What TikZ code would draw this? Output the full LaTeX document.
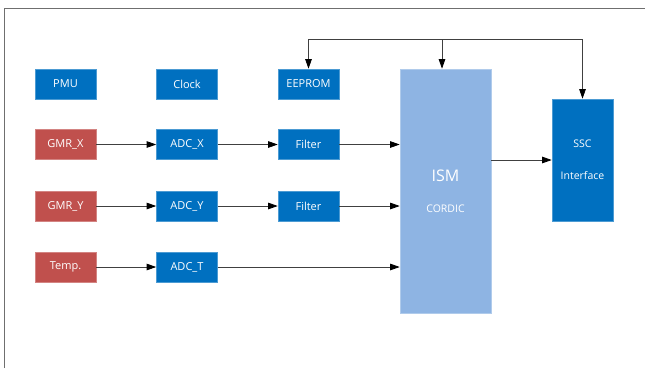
\documentclass[tikz,border=0pt]{standalone}
\usepackage{fontspec}
\setmainfont{Open Sans}
\usetikzlibrary{arrows.meta}
\definecolor{blk}{HTML}{0070C0}
\definecolor{sensor}{HTML}{C0504D}
\definecolor{core}{HTML}{8EB4E3}
\definecolor{frame}{HTML}{6F6F6F}
\tikzset{
  unit/.style={rectangle, fill=blk, draw=blk!70!white, line width=0.6pt, text=white,
    minimum width=61pt, minimum height=30pt, inner sep=0pt, font=\fontsize{11}{13}\selectfont},
  sensorbox/.style={unit, fill=sensor, draw=sensor!70!white},
  flow/.style={draw=black!75, line width=0.8pt, -{Triangle[length=9.5pt,width=6.5pt,color=black]}},
}
\begin{document}
\begin{tikzpicture}[x=1pt,y=-1pt]
\useasboundingbox (0,0) rectangle (645,368);
% outer frame (open at right and bottom)
\draw[frame, line width=1pt] (4.5,368) -- (4.5,8.5) -- (645,8.5);

% top row
\node[unit] (pmu)    at (65.5,84)  {PMU};
\node[unit] (clock)  at (187,84)   {Clock};
\node[unit] (eeprom) at (308.5,84) {EEPROM};

% X channel
\node[sensorbox] (gmrx) at (65.5,144.5) {GMR\_X};
\node[unit] (adcx)      at (187,144.5)  {ADC\_X};
\node[unit] (filtx)     at (308.5,144.5){Filter};

% Y channel
\node[sensorbox] (gmry) at (65.5,206) {GMR\_Y};
\node[unit] (adcy)      at (187,206)  {ADC\_Y};
\node[unit] (filty)     at (308.5,206){Filter};

% temperature channel
\node[sensorbox] (temp) at (65.5,267) {Temp.};
\node[unit] (adct)      at (187,267)  {ADC\_T};

% processing core and interface
\node[unit, fill=core, draw=core!70!white, minimum width=91pt, minimum height=244pt] (ism) at (445.5,191) {};
\node[text=white, font=\fontsize{16}{18}\selectfont] (ismlabel) at (445.5,176) {ISM};
\node[text=white, font=\fontsize{10.5}{12}\selectfont] (cordic) at (445.5,209) {CORDIC};
\node[unit, minimum width=61pt, minimum height=122pt, align=center,
      font=\fontsize{10.5}{32}\selectfont] (ssc) at (582.5,160) {SSC\\Interface};

% signal paths
\draw[flow] (gmrx) -- (adcx);
\draw[flow] (adcx) -- (filtx);
\draw[flow] (filtx.east) -- (filtx.east -| ism.west);
\draw[flow] (gmry) -- (adcy);
\draw[flow] (adcy) -- (filty);
\draw[flow] (filty.east) -- (filty.east -| ism.west);
\draw[flow] (temp) -- (adct);
\draw[flow] (adct.east) -- (adct.east -| ism.west);
\draw[flow] (ism.east |- ssc.west) -- (ssc.west);

% configuration bus from the top
\coordinate (busl) at (308.5,39);
\coordinate (busm) at (442,39);
\coordinate (busr) at (582.5,39);
\draw[draw=black!75, line width=0.8pt] (busl) -- (busr);
\draw[flow] (busl) -- (eeprom.north);
\draw[flow] (busm) -- (busm |- ism.north);
\draw[flow] (busr) -- (ssc.north);
\end{tikzpicture}
\end{document}
